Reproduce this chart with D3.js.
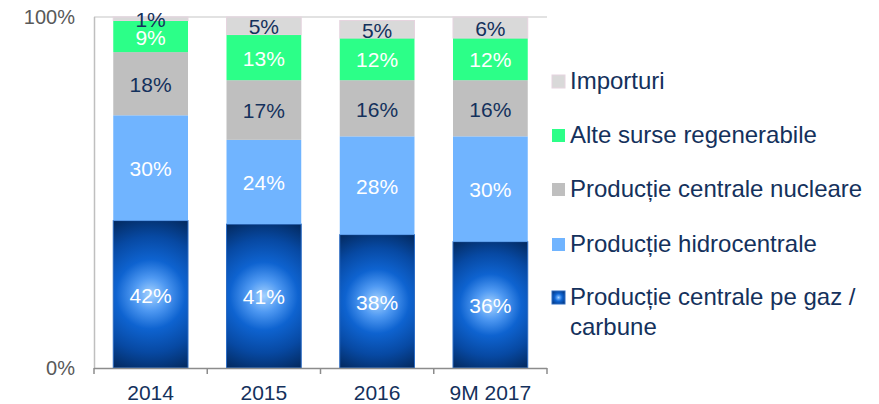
<!DOCTYPE html>
<html>
<head>
<meta charset="utf-8">
<script src="https://cdn.jsdelivr.net/npm/d3@7"></script>
<style>
  body { margin: 0; background: #fff; }
  svg text { font-family: "Liberation Sans", Arial, sans-serif; }
</style>
</head>
<body>
<div id="chart"></div>
<script>
// Categories and series (percent of production mix).
var categories = ["2014", "2015", "2016", "9M 2017"];
var seriesNames = ["Producție centrale pe gaz / carbune", "Producție hidrocentrale",
                   "Producție centrale nucleare", "Alte surse regenerabile", "Importuri"];
var gazCarbune = [42, 41, 38, 36];
var hidro = [30, 24, 28, 30];
var nuclear = [18, 17, 16, 16];
var regenerabile = [9, 13, 12, 12];
var importuri = [1, 5, 5, 6];
var yTickLabels = ["0%", "100%"];

var width = 879, height = 404;
var colors = ["url(#gazGrad)", "#70b4ff", "#bfbfbf", "#2cff88", "#d9d9d9"];
var labelColors = ["#ffffff", "#ffffff", "#14315c", "#ffffff", "#14315c"];
var strokes = ["#2c6cc4", "none", "none", "none", "#e6d4df"];
var navy = "#14315c";

var svg = d3.select("#chart").append("svg")
    .attr("width", width)
    .attr("height", height);

var defs = svg.append("defs");
var gradStops = [
  [0, "#a4d2ff"], [0.2, "#4f99f2"], [0.42, "#0e63d0"],
  [0.7, "#0749a3"], [1, "#03285c"]
];
function addStops(g) {
  gradStops.forEach(function(s) {
    g.append("stop").attr("offset", s[0]).attr("stop-color", s[1]);
  });
}
// Legend marker gradient.
addStops(defs.append("radialGradient").attr("id", "gazGrad")
    .attr("cx", "50%").attr("cy", "50%").attr("r", "70%"));

// Build rows for the stack.
var rows = categories.map(function(c, i) {
  return { cat: c, s0: gazCarbune[i], s1: hidro[i], s2: nuclear[i], s3: regenerabile[i], s4: importuri[i] };
});
var keys = ["s0", "s1", "s2", "s3", "s4"];
var stacked = d3.stack().keys(keys)(rows);

var x = d3.scaleBand()
    .domain(categories)
    .range([94, 547])
    .paddingInner(0.34)
    .paddingOuter(0.17);

var y = d3.scaleLinear()
    .domain([0, 100])
    .range([368, 17]);

// Per-bar circular gradients for the gas / coal segments.
stacked[0].forEach(function(p, i) {
  var cx = x(p.data.cat) + x.bandwidth() / 2;
  var cy = (y(p[0]) + y(p[1])) / 2;
  var g = defs.append("radialGradient")
      .attr("id", "gazBar" + i)
      .attr("gradientUnits", "userSpaceOnUse")
      .attr("cx", cx).attr("cy", cy)
      .attr("r", Math.hypot(x.bandwidth() / 2, (y(p[0]) - y(p[1])) / 2));
  addStops(g);
});

// Plot frame: light top line and left axis line.
svg.append("line")
    .attr("x1", 94).attr("x2", 547)
    .attr("y1", y(100)).attr("y2", y(100))
    .attr("stroke", "#d9d9d9").attr("stroke-width", 1.5);
svg.append("line")
    .attr("x1", 94.5).attr("x2", 94.5)
    .attr("y1", y(100)).attr("y2", y(0))
    .attr("stroke", "#bfbfbf").attr("stroke-width", 1.5);

// Y tick labels.
svg.selectAll(".ylab")
    .data([0, 100])
    .enter().append("text")
    .attr("class", "ylab")
    .attr("x", 75)
    .attr("y", function(d) { return y(d); })
    .attr("dy", "0.35em")
    .attr("text-anchor", "end")
    .attr("fill", "#595959")
    .style("font-size", "20px")
    .text(function(d, i) { return yTickLabels[i]; });

// Bars.
var layers = svg.selectAll(".layer")
    .data(stacked)
    .enter().append("g")
    .attr("class", "layer");

layers.selectAll("rect")
    .data(function(d) { return d.map(function(p, i) { return { p: p, k: d.index, i: i }; }); })
    .enter().append("rect")
    .attr("x", function(d) { return x(d.p.data.cat); })
    .attr("width", x.bandwidth())
    .attr("y", function(d) { return y(d.p[1]); })
    .attr("height", function(d) { return y(d.p[0]) - y(d.p[1]); })
    .attr("fill", function(d) { return d.k === 0 ? "url(#gazBar" + d.i + ")" : colors[d.k]; })
    .attr("stroke", function(d) { return strokes[d.k]; })
    .attr("stroke-width", 1);

// Data labels.
layers.selectAll("text")
    .data(function(d) { return d.map(function(p) { return { p: p, k: d.index }; }); })
    .enter().append("text")
    .attr("x", function(d) { return x(d.p.data.cat) + x.bandwidth() / 2; })
    .attr("y", function(d) { return (y(d.p[0]) + y(d.p[1])) / 2 + 1; })
    .attr("dy", "0.35em")
    .attr("text-anchor", "middle")
    .attr("fill", function(d) { return labelColors[d.k]; })
    .style("font-size", "21px")
    .text(function(d) { return (d.p[1] - d.p[0]) + "%"; });

// Bottom axis.
var xAxisG = svg.append("g")
    .attr("transform", "translate(0," + y(0) + ")");
xAxisG.append("line")
    .attr("x1", 94).attr("x2", 547)
    .attr("y1", 0.5).attr("y2", 0.5)
    .attr("stroke", "#8c8c8c").attr("stroke-width", 1.5);
var tickX = categories.map(function(c, i) { return 94 + i * x.step(); }).concat([547]);
xAxisG.selectAll(".tk")
    .data(tickX)
    .enter().append("line")
    .attr("class", "tk")
    .attr("x1", function(d) { return d; }).attr("x2", function(d) { return d; })
    .attr("y1", 0).attr("y2", 6)
    .attr("stroke", "#8c8c8c").attr("stroke-width", 1.5);
xAxisG.selectAll(".xlab")
    .data(categories)
    .enter().append("text")
    .attr("class", "xlab")
    .attr("x", function(d) { return x(d) + x.bandwidth() / 2; })
    .attr("y", 32)
    .attr("text-anchor", "middle")
    .attr("fill", navy)
    .style("font-size", "21px")
    .text(function(d) { return d; });

// Legend (top to bottom: reverse of stack order).
var legendRows = [
  { k: 4, lines: ["Importuri"], base: 89 },
  { k: 3, lines: ["Alte surse regenerabile"], base: 143 },
  { k: 2, lines: ["Producție centrale nucleare"], base: 197 },
  { k: 1, lines: ["Producție hidrocentrale"], base: 252 },
  { k: 0, lines: ["Producție centrale pe gaz /", "carbune"], base: 305 }
];
var legend = svg.append("g");
legend.selectAll("rect")
    .data(legendRows)
    .enter().append("rect")
    .attr("x", 552)
    .attr("y", function(d) { return d.base - 14; })
    .attr("width", 13)
    .attr("height", 13)
    .attr("fill", function(d) { return colors[d.k]; })
    .attr("stroke", function(d) { return strokes[d.k]; });
legend.selectAll("text")
    .data(legendRows)
    .enter().append("text")
    .attr("x", 570)
    .attr("y", function(d) { return d.base; })
    .attr("fill", navy)
    .style("font-size", "24px")
    .each(function(d) {
      var t = d3.select(this);
      d.lines.forEach(function(line, i) {
        t.append("tspan")
          .attr("x", 570)
          .attr("dy", i === 0 ? 0 : 30)
          .text(line);
      });
    });
</script>
</body>
</html>
